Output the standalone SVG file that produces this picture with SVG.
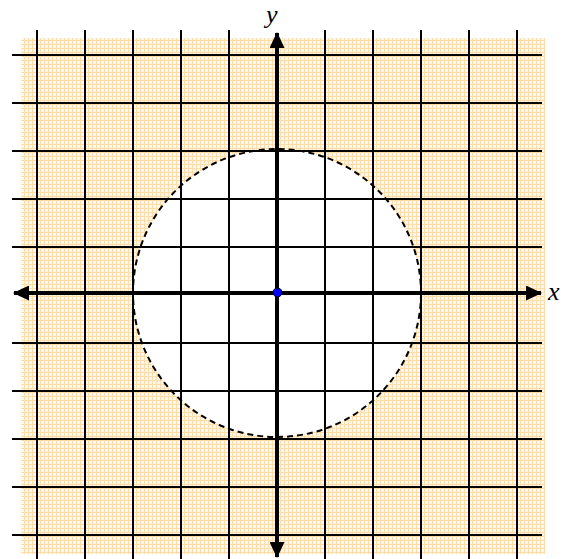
<svg xmlns="http://www.w3.org/2000/svg" width="571" height="559" viewBox="0 0 571 559">
<defs>
<pattern id="paper" width="4" height="4" patternUnits="userSpaceOnUse">
<rect width="4" height="4" fill="#fff8ee"/>
<rect x="0" y="0" width="4" height="1" fill="#ffdca8"/>
<rect x="0" y="0" width="1" height="4" fill="#ffdca8"/>
</pattern>
<marker id="arr" viewBox="0 0 16 15" refX="15" refY="7.5" markerWidth="16" markerHeight="15" markerUnits="userSpaceOnUse" orient="auto-start-reverse">
<path d="M0,0 L16,7.5 L0,15 Z" fill="#000"/>
</marker>
<style>
.grid line{stroke:#000;stroke-width:2}
.axis{stroke:#000;stroke-width:4;fill:none}
.lbl{font-family:"Liberation Serif","Times New Roman",serif;font-style:italic;font-size:26px;fill:#000}
</style>
</defs>
<rect x="21" y="38" width="524" height="516" fill="url(#paper)"/>
<circle cx="277" cy="293" r="144" fill="#fff"/>
<g class="grid" id="grid">
<line x1="37" y1="30" x2="37" y2="559"/>
<line x1="85" y1="30" x2="85" y2="559"/>
<line x1="133" y1="30" x2="133" y2="559"/>
<line x1="181" y1="30" x2="181" y2="559"/>
<line x1="229" y1="30" x2="229" y2="559"/>
<line x1="325" y1="30" x2="325" y2="559"/>
<line x1="373" y1="30" x2="373" y2="559"/>
<line x1="421" y1="30" x2="421" y2="559"/>
<line x1="469" y1="30" x2="469" y2="559"/>
<line x1="517" y1="30" x2="517" y2="559"/>
<line x1="12" y1="55" x2="542" y2="55"/>
<line x1="12" y1="103" x2="542" y2="103"/>
<line x1="12" y1="151" x2="542" y2="151"/>
<line x1="12" y1="199" x2="542" y2="199"/>
<line x1="12" y1="247" x2="542" y2="247"/>
<line x1="12" y1="343" x2="542" y2="343"/>
<line x1="12" y1="391" x2="542" y2="391"/>
<line x1="12" y1="439" x2="542" y2="439"/>
<line x1="12" y1="487" x2="542" y2="487"/>
<line x1="12" y1="535" x2="542" y2="535"/>
</g>
<g id="circle">
<circle cx="277" cy="293" r="144" fill="none" stroke="#000" stroke-width="2" stroke-dasharray="6 4"/>
</g>
<g id="connectors">
<line class="axis" x1="277" y1="33" x2="277" y2="557" marker-start="url(#arr)" marker-end="url(#arr)"/>
<line class="axis" x1="14" y1="293" x2="541" y2="293" marker-start="url(#arr)" marker-end="url(#arr)"/>
</g>
<g id="labels">
<text class="lbl" x="266" y="23">y</text>
<text class="lbl" x="548" y="300">x</text>
</g>
<g id="origin">
<circle cx="277.5" cy="292.5" r="4.5" fill="#0000ff" stroke="#000" stroke-width="1"/>
</g>
</svg>
